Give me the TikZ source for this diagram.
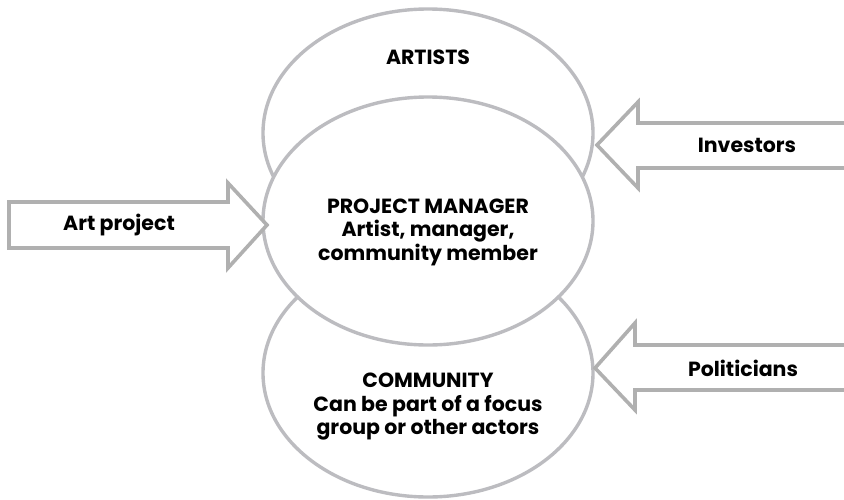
\documentclass[tikz,border=0pt]{standalone}
\usepackage{fontspec}
\setsansfont{Poppins}
\usetikzlibrary{shapes.geometric}
\definecolor{ringgray}{RGB}{188,188,192}
\definecolor{arrowgray}{RGB}{176,176,176}
\tikzset{
	ring/.style={ellipse, draw=ringgray, line width=3.4pt, fill=white, minimum width=330pt, minimum height=248pt, inner sep=0pt},
	blockarrow/.style={draw=arrowgray, fill=white, line width=3.6pt, line join=miter},
	lbl/.style={font=\sffamily\bfseries\fontsize{20.5}{23.5}\selectfont, align=center, text=black, inner sep=0pt}
}
\begin{document}
\begin{tikzpicture}[x=1pt, y=-1pt]
	\useasboundingbox (0,0) rectangle (844,499);
	% the three circles, middle one on top
	\node[ring] (artists) at (428,133) {};
	\node[ring] (community) at (428,373) {};
	\node[ring] (manager) at (428,221) {};
	\node[lbl] (artiststext) at (428,57) {ARTISTS};
	\node[lbl] (managertext) at (428,232) {PROJECT MANAGER\\Artist, manager,\\community member};
	\node[lbl] (communitytext) at (428,407) {COMMUNITY\\Can be part of a focus\\group or other actors};
	% block arrows
	\draw[blockarrow] (9,202)--(228,202)--(228,183)--(267,225)--(228,268)--(228,248)--(9,248)--cycle;
	\draw[blockarrow] (860,123)--(638,123)--(638,102)--(597,145)--(638,188)--(638,168)--(860,168)--cycle;
	\draw[blockarrow] (860,345)--(635,345)--(635,323)--(595,368)--(635,410)--(635,390)--(860,390)--cycle;
	\node[lbl] (artproject) at (119,225) {Art project};
	\node[lbl] (investors) at (747,145) {Investors};
	\node[lbl] (politicians) at (743,368) {Politicians};
\end{tikzpicture}
\end{document}
